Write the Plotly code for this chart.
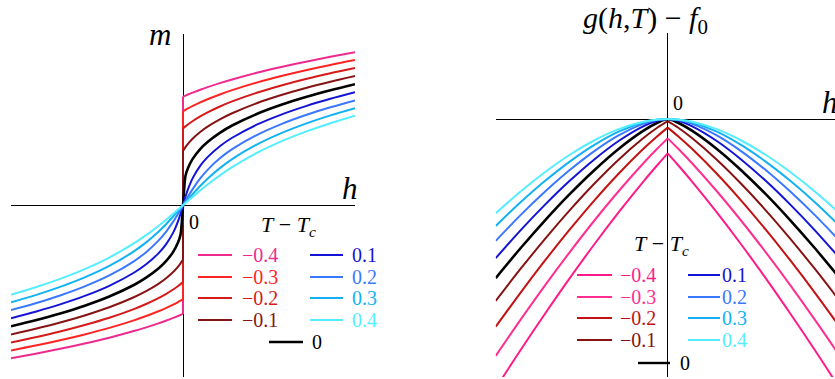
import plotly.graph_objects as go

# Reduced temperatures T - Tc of the curve family
t_values = [-0.4, -0.3, -0.2, -0.1, 0.0, 0.1, 0.2, 0.3, 0.4]
t_labels = ["−0.4", "−0.3", "−0.2", "−0.1", "0", "0.1", "0.2", "0.3", "0.4"]

# Magnetization m(h) on the h >= 0 side (odd in h)
h_m = [0, 0.005, 0.01, 0.02, 0.035, 0.05, 0.075, 0.1, 0.15, 0.2, 0.25, 0.3, 0.35]
m_tm04 = [0.6325, 0.6386, 0.6446, 0.6561, 0.6724, 0.6875, 0.7110, 0.7325, 0.7711, 0.8052, 0.8361, 0.8643, 0.8905]
m_tm03 = [0.5477, 0.5559, 0.5637, 0.5784, 0.5987, 0.6173, 0.6452, 0.6702, 0.7142, 0.7522, 0.7861, 0.8169, 0.8451]
m_tm02 = [0.4472, 0.4592, 0.4704, 0.4907, 0.5173, 0.5408, 0.5749, 0.6045, 0.6550, 0.6976, 0.7350, 0.7684, 0.7988]
m_tm01 = [0.3162, 0.3388, 0.3577, 0.3891, 0.4267, 0.4575, 0.5000, 0.5355, 0.5938, 0.6416, 0.6828, 0.7191, 0.7520]
m_t00 = [0.0, 0.1710, 0.2154, 0.2714, 0.3271, 0.3684, 0.4217, 0.4642, 0.5313, 0.5848, 0.6300, 0.6694, 0.7047]
m_tp01 = [0.0, 0.0488, 0.0922, 0.1595, 0.2294, 0.2801, 0.3438, 0.3930, 0.4689, 0.5280, 0.5772, 0.6197, 0.6575]
m_tp02 = [0.0, 0.0249, 0.0494, 0.0956, 0.1560, 0.2062, 0.2731, 0.3263, 0.4087, 0.4725, 0.5253, 0.5707, 0.6108]
m_tp03 = [0.0, 0.0167, 0.0332, 0.0657, 0.1120, 0.1544, 0.2163, 0.2687, 0.3532, 0.4199, 0.4753, 0.5230, 0.5651]
m_tp04 = [0.0, 0.0125, 0.0250, 0.0497, 0.0859, 0.1206, 0.1743, 0.2225, 0.3044, 0.3717, 0.4284, 0.4776, 0.5212]

# Free energy g(h,T) - f0 on the h >= 0 side (even in h)
h_g = [0, 0.02, 0.05, 0.1, 0.15, 0.2, 0.25, 0.3, 0.35]
g_tm04 = [-0.0400, -0.0529, -0.0730, -0.1086, -0.1462, -0.1856, -0.2267, -0.2692, -0.3131]
g_tm03 = [-0.0225, -0.0338, -0.0517, -0.0840, -0.1186, -0.1553, -0.1937, -0.2339, -0.2754]
g_tm02 = [-0.0100, -0.0194, -0.0349, -0.0636, -0.0951, -0.1290, -0.1648, -0.2024, -0.2416]
g_tm01 = [-0.0025, -0.0096, -0.0224, -0.0473, -0.0756, -0.1065, -0.1397, -0.1747, -0.2115]
g_t00 = [0.0, -0.0041, -0.0138, -0.0348, -0.0598, -0.0877, -0.1181, -0.1506, -0.1850]
g_tp01 = [0.0, -0.0018, -0.0085, -0.0256, -0.0473, -0.0722, -0.0999, -0.1298, -0.1618]
g_tp02 = [0.0, -0.0010, -0.0056, -0.0191, -0.0376, -0.0597, -0.0847, -0.1121, -0.1417]
g_tp03 = [0.0, -0.0007, -0.0040, -0.0147, -0.0304, -0.0498, -0.0722, -0.0972, -0.1244]
g_tp04 = [0.0, -0.0005, -0.0031, -0.0117, -0.0250, -0.0419, -0.0620, -0.0847, -0.1097]

m_curves = [m_tm04, m_tm03, m_tm02, m_tm01, m_t00, m_tp01, m_tp02, m_tp03, m_tp04]
g_curves = [g_tm04, g_tm03, g_tm02, g_tm01, g_t00, g_tp01, g_tp02, g_tp03, g_tp04]

colors_m = ["#ee2a8e", "#ff2424", "#d41a1a", "#861414", "#000000",
            "#1414d6", "#3a78ff", "#12b2f2", "#55eeff"]
colors_g = ["#ff1a8a", "#ff2e90", "#c41212", "#861212", "#000000",
            "#1414d6", "#3a78ff", "#12b2f2", "#55eeff"]

W, H = 835, 379
SERIF = "Liberation Serif, Times New Roman, serif"


def odd_path(h, m):
    """Mirror an odd function; a nonzero value at h=0 becomes a jump."""
    neg_x = [-v for v in reversed(h)]
    neg_y = [-v for v in reversed(m)]
    if m[0] != 0:
        x = neg_x + [None, 0, 0, None] + list(h)
        y = neg_y + [None, -m[0], m[0], None] + list(m)
    else:
        x = neg_x[:-1] + list(h)
        y = neg_y[:-1] + list(m)
    return x, y


def even_path(h, g, kink):
    neg_x = [-v for v in reversed(h)]
    neg_y = list(reversed(g))
    if kink:
        return neg_x + [None] + list(h), neg_y + [None] + list(g)
    return neg_x[:-1] + list(h), neg_y[:-1] + list(g)


fig = go.Figure()

for t, m, c in zip(t_values, m_curves, colors_m):
    x, y = odd_path(h_m, m)
    fig.add_trace(go.Scatter(
        x=x, y=y, mode="lines", xaxis="x", yaxis="y", showlegend=False,
        line=dict(color=c, width=2.6 if t == 0 else 2, shape="spline", smoothing=0.8),
        connectgaps=False, hoverinfo="skip"))

for t, g, c in zip(t_values, g_curves, colors_g):
    x, y = even_path(h_g, g, t < 0)
    fig.add_trace(go.Scatter(
        x=x, y=y, mode="lines", xaxis="x2", yaxis="y2", showlegend=False,
        line=dict(color=c, width=2.6 if t == 0 else 2, shape="spline", smoothing=0.8),
        connectgaps=False, hoverinfo="skip"))


def px(xp):
    return xp / W


def py(yp):
    return 1 - yp / H


axis_common = dict(showgrid=False, showticklabels=False, ticks="", showline=False,
                   zeroline=True, zerolinecolor="black", zerolinewidth=1)

h_max = 0.35
fig.update_layout(
    width=W, height=H, margin=dict(l=0, r=0, t=0, b=0),
    paper_bgcolor="white", plot_bgcolor="white",
    xaxis=dict(domain=[px(11), px(355)], range=[-h_max, h_max], anchor="y", **axis_common),
    yaxis=dict(domain=[py(377), py(33.5)], range=[-1, 1], anchor="x", **axis_common),
    xaxis2=dict(domain=[px(495.7), 1.0],
                range=[-h_max, -h_max + 2 * h_max * (835 - 495.7) / 344], anchor="y2", **axis_common),
    yaxis2=dict(domain=[py(377), py(33)], range=[-0.3, 0.1], anchor="x2", **axis_common),
)

annotations = []
shapes = []


def text(x, y, s, size, color="black", anchor="left"):
    annotations.append(dict(x=px(x), y=py(y), xref="paper", yref="paper", text=s,
                            showarrow=False, xanchor=anchor, yanchor="middle", borderpad=0,
                            font=dict(family=SERIF, size=size, color=color)))


def sample(x0, x1, y, color, width=2):
    shapes.append(dict(type="line", xref="paper", yref="paper",
                       x0=px(x0), x1=px(x1), y0=py(y), y1=py(y),
                       line=dict(color=color, width=width)))


# axis labels
text(160, 35, "<i>m</i>", 31, anchor="center")
text(350, 188, "<i>h</i>", 31, anchor="center")
text(194, 222, "0", 20, anchor="center")
text(582, 20, "<i>g</i>(<i>h</i>,<i>T</i>) − <i>f</i><sub>0</sub>", 30)
text(821, 103, "<i>h</i>", 31)
text(678, 103, "0", 20, anchor="center")

# legend blocks: title position, row y's, column (line start, line end, label x), zero row
legend_specs = [
    dict(colors=colors_m, title=(260, 226), rows=[255, 277, 298, 320],
         cols=[(198, 232, 241), (310, 343, 351)], zero=(269, 303, 311, 342)),
    dict(colors=colors_g, title=(633, 245), rows=[275, 297, 318, 340],
         cols=[(577, 612, 619), (688, 720, 721)], zero=(638, 670, 679, 363)),
]
for spec in legend_specs:
    tx, ty = spec["title"]
    text(tx, ty, "<i>T</i> − <i>T</i><sub><i>c</i></sub>", 22)
    order = [[0, 1, 2, 3], [5, 6, 7, 8]]
    for (lx0, lx1, tx0), idxs in zip(spec["cols"], order):
        for row_y, k in zip(spec["rows"], idxs):
            sample(lx0, lx1, row_y, spec["colors"][k])
            text(tx0, row_y, t_labels[k], 20, color=spec["colors"][k])
    zx0, zx1, ztx, zy = spec["zero"]
    sample(zx0, zx1, zy, "black", 2.4)
    text(ztx, zy, t_labels[4], 20)

fig.update_layout(annotations=annotations, shapes=shapes)
fig.write_html("out.html")
